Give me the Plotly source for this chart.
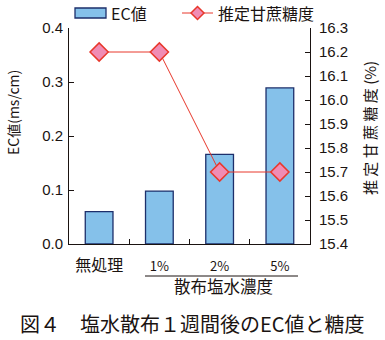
import plotly.graph_objects as go

# Treatments (salt-water spray concentration)
categories = ["無処理", "1%", "2%", "5%"]
# EC value of soil, ms/cm
ec_values = [0.06, 0.098, 0.166, 0.289]
# Estimated cane sugar content, %
sugar_values = [16.2, 16.2, 15.7, 15.7]

left_ticks = [0.0, 0.1, 0.2, 0.3, 0.4]
right_ticks = [15.4, 15.5, 15.6, 15.7, 15.8, 15.9, 16.0, 16.1, 16.2, 16.3]

jp_font = "Noto Sans CJK JP"
num_font = "Liberation Sans"
ink = "#1a1311"
bar_fill = "#85c1ea"
bar_edge = "#1d2f6b"
line_red = "#e8382c"
marker_fill = "#f08cb4"

# plot area in pixels
L, R, T, B = 69, 310, 28, 244
PW, PH = R - L, B - T


def px(x):
    return (x - L) / PW


def py(y):
    return (B - y) / PH


# category labels: the Japanese one larger, the percentages smaller
tick_text = ["<span style='font-size:16px'>%s</span>" % c if not c.endswith("%")
             else "<span style='font-size:13px'>%s</span>" % c for c in categories]

fig = go.Figure()

fig.add_trace(go.Bar(
    x=categories, y=ec_values, name="EC値",
    marker=dict(color=bar_fill, line=dict(color=bar_edge, width=1.3)),
    width=0.46, yaxis="y", showlegend=False,
))

fig.add_trace(go.Scatter(
    x=categories, y=sugar_values, name="推定甘蔗糖度",
    mode="lines+markers", yaxis="y2",
    line=dict(color=line_red, width=1),
    marker=dict(symbol="diamond", size=14, color=marker_fill,
                line=dict(color=line_red, width=1.5)),
    showlegend=False, cliponaxis=False,
))

fig.update_layout(
    width=385, height=340,
    margin=dict(l=L, r=385 - R, t=T, b=340 - B),
    paper_bgcolor="white", plot_bgcolor="white",
    font=dict(family=num_font, color=ink, size=14),
    xaxis=dict(
        type="category", range=[-0.5, 3.5],
        tickvals=categories, ticktext=tick_text,
        showline=True, linecolor=ink, linewidth=1,
        ticks="inside", tickson="boundaries", ticklen=5, tickcolor=ink,
        tickfont=dict(family=jp_font, size=14, color=ink),
        ticklabelstandoff=9,
        showgrid=False, zeroline=False, fixedrange=True,
    ),
    yaxis=dict(
        range=[0, 0.4], tickvals=left_ticks, tickformat=".1f",
        showline=True, linecolor=ink, linewidth=1,
        ticks="inside", ticklen=5, tickcolor=ink,
        tickfont=dict(family=num_font, size=15, color=ink),
        ticklabelstandoff=2,
        showgrid=False, zeroline=False,
    ),
    yaxis2=dict(
        overlaying="y", side="right",
        range=[15.4, 16.3], tickvals=right_ticks, tickformat=".1f",
        showline=True, linecolor=ink, linewidth=1,
        ticks="inside", ticklen=5, tickcolor=ink,
        tickfont=dict(family=num_font, size=15, color=ink),
        ticklabelstandoff=5,
        showgrid=False, zeroline=False,
    ),
)

# Axis titles
fig.add_annotation(text="EC値(ms/cm)", xref="paper", yref="paper",
                   x=px(13), y=py(113), textangle=-90,
                   xanchor="center", yanchor="middle", showarrow=False,
                   font=dict(family=jp_font, size=14, color=ink))
fig.add_annotation(text="推 定 甘 蔗 糖 度 (%)", xref="paper", yref="paper",
                   x=px(370), y=py(128), textangle=-90,
                   xanchor="center", yanchor="middle", showarrow=False,
                   font=dict(family=jp_font, size=15, color=ink))

# Legend drawn by hand: wide bar swatch and line-with-diamond swatch
fig.add_shape(type="rect", xref="paper", yref="paper",
              x0=px(75), x1=px(106), y0=py(18), y1=py(8),
              fillcolor=bar_fill, line=dict(color=bar_edge, width=1.3))
fig.add_annotation(text="EC値", xref="paper", yref="paper",
                   x=px(109), y=py(13),
                   xanchor="left", yanchor="middle", showarrow=False,
                   font=dict(family=jp_font, size=16, color=ink))
fig.add_shape(type="line", xref="paper", yref="paper",
              x0=px(182), x1=px(213), y0=py(13), y1=py(13),
              line=dict(color=line_red, width=1))
fig.add_shape(type="path", xref="paper", yref="paper",
              path="M {a},{m} L {b},{t} L {c},{m} L {b},{btm} Z".format(
                  a=px(191), b=px(197.5), c=px(204),
                  m=py(13), t=py(6.5), btm=py(19.5)),
              fillcolor=marker_fill, line=dict(color=line_red, width=1.5))
fig.add_annotation(text="推定甘蔗糖度", xref="paper", yref="paper",
                   x=px(216), y=py(13),
                   xanchor="left", yanchor="middle", showarrow=False,
                   font=dict(family=jp_font, size=16, color=ink))

# Group label under the sprayed treatments
fig.add_shape(type="line", xref="paper", yref="paper",
              x0=px(145), x1=px(298), y0=py(276), y1=py(276),
              line=dict(color=ink, width=1))
fig.add_annotation(text="散布塩水濃度", xref="paper", yref="paper",
                   x=px(223), y=py(286),
                   xanchor="center", yanchor="middle", showarrow=False,
                   font=dict(family=jp_font, size=16.5, color=ink))

# Figure caption
fig.add_annotation(text="図４　塩水散布１週間後のEC値と糖度", xref="paper", yref="paper",
                   x=px(192), y=py(323),
                   xanchor="center", yanchor="middle", showarrow=False,
                   font=dict(family=jp_font, size=20, color=ink))

fig.write_html("out.html")
